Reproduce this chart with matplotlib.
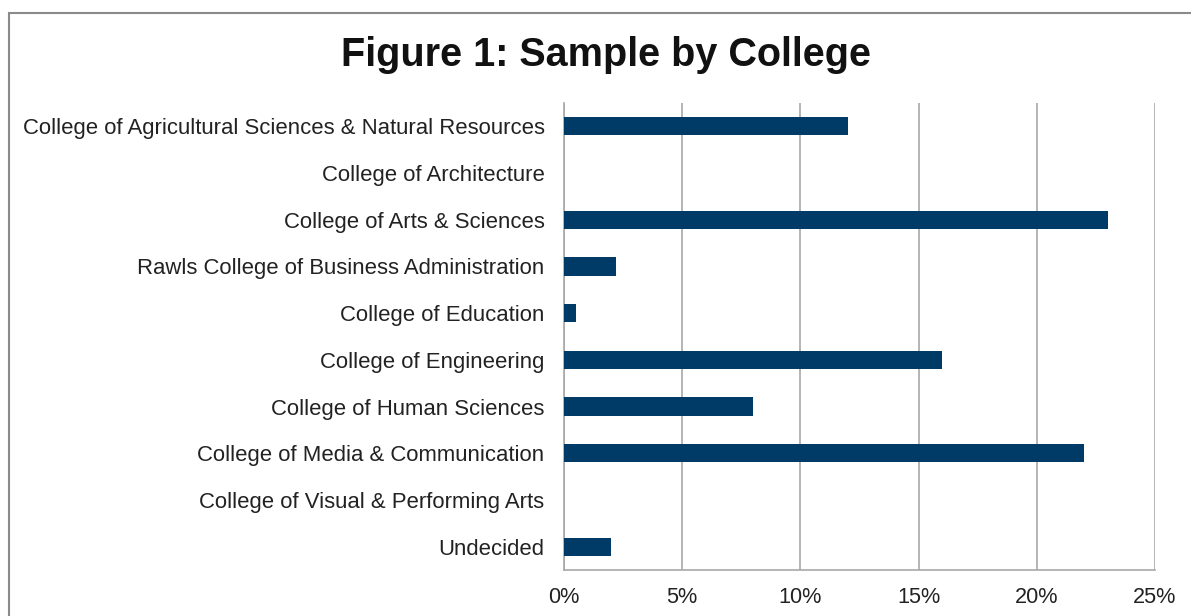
import matplotlib.pyplot as plt
from matplotlib.patches import Rectangle
from matplotlib.ticker import FuncFormatter

colleges = [
    'College of Agricultural Sciences & Natural Resources',
    'College of Architecture',
    'College of Arts & Sciences',
    'Rawls College of Business Administration',
    'College of Education',
    'College of Engineering',
    'College of Human Sciences',
    'College of Media & Communication',
    'College of Visual & Performing Arts',
    'Undecided',
]
percent = [12, 0, 23, 2.2, 0.5, 16, 8, 22, 0, 2]
xticks = [0, 5, 10, 15, 20, 25]

plt.rcParams['font.family'] = ['Liberation Sans', 'DejaVu Sans']

fig = plt.figure(figsize=(11.91, 6.16), dpi=100)
ax = fig.add_axes([0.4736, 0.0747, 0.4962, 0.7581])

y = list(range(len(colleges)))
ax.barh(y, percent, height=0.39, color='#003a66', zorder=3)

ax.set_ylim(len(colleges) - 0.5, -0.5)
ax.set_yticks(y)
ax.set_yticklabels(colleges, fontsize=15.9, color='#222222')
ax.set_xlim(0, 25)
ax.set_xticks(xticks)
ax.xaxis.set_major_formatter(FuncFormatter(lambda v, p: '%d%%' % v))
ax.tick_params(axis='x', length=0, pad=12, labelsize=15.6, labelcolor='#222222')
ax.tick_params(axis='y', length=0, pad=14)

ax.grid(axis='x', color='#a8a8a8', linewidth=1.2, zorder=0)
for side in ['top', 'right']:
    ax.spines[side].set_visible(False)
for side in ['left', 'bottom']:
    ax.spines[side].set_color('#a8a8a8')
    ax.spines[side].set_linewidth(1.2)

fig.text(0.509, 0.91, 'Figure 1: Sample by College', ha='center', va='center',
         fontsize=28.5, fontweight='bold', color='#111111')

# frame around the chart
fig.patches.append(Rectangle((9 / 1191, -0.1), 1.2, (616 - 13) / 616 + 0.1,
                             transform=fig.transFigure, fill=False,
                             edgecolor='#8a8a8a', linewidth=1.5))

fig.savefig('out.png', dpi=100)
